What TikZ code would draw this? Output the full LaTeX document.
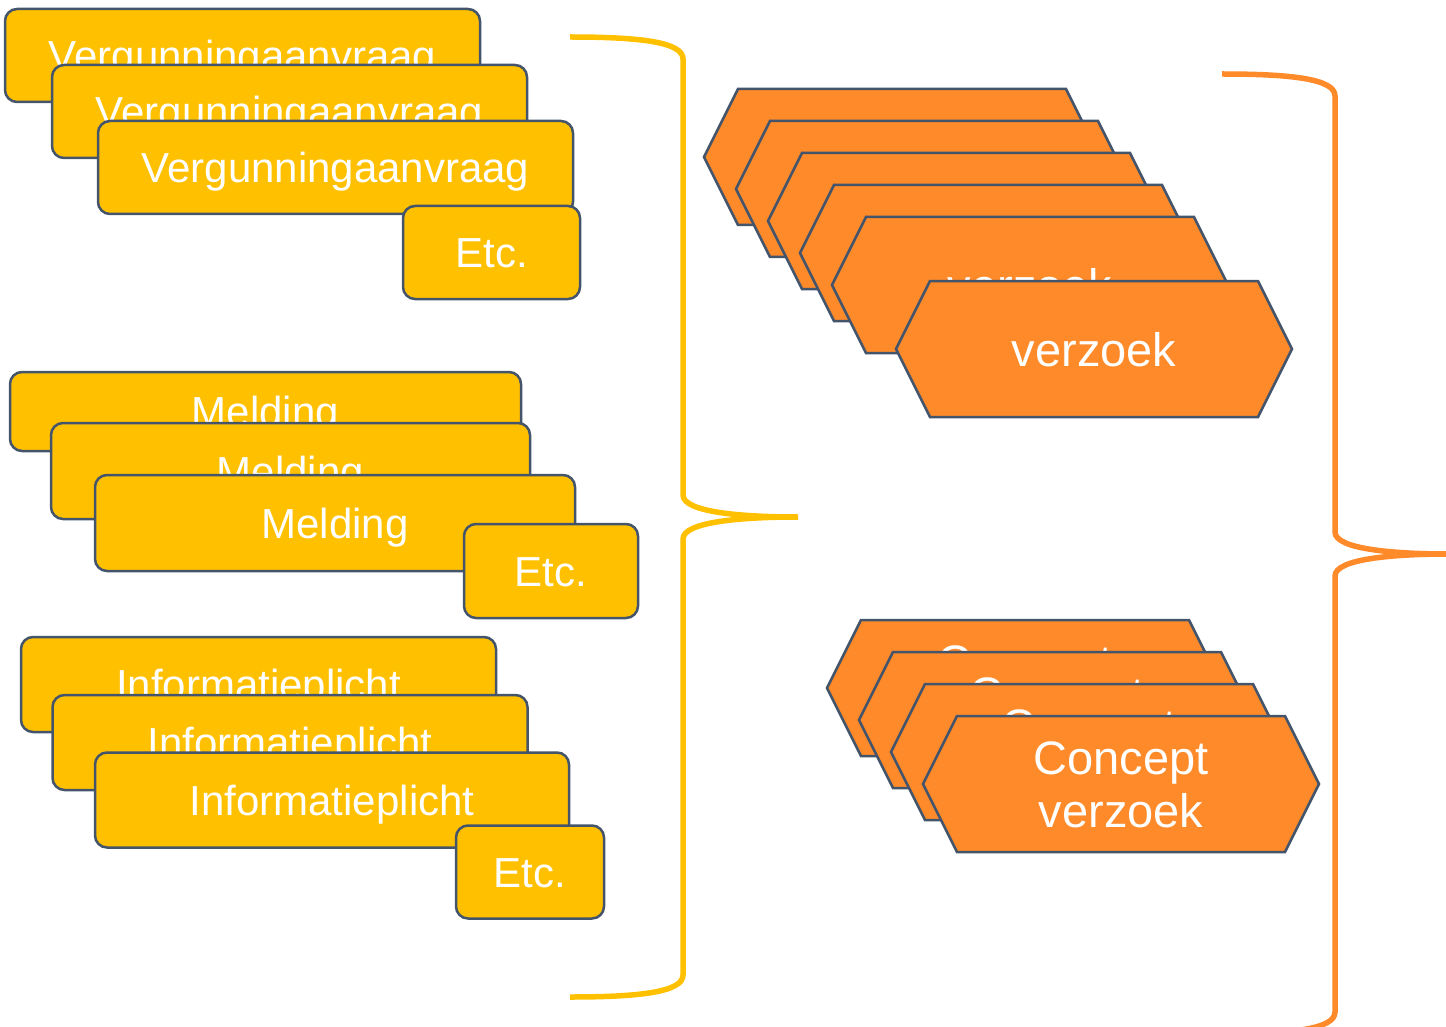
\documentclass[tikz,border=0pt]{standalone}
\usepackage{fontspec}
\setmainfont{Liberation Sans}

\definecolor{geel}{HTML}{FFC000}
\definecolor{oranje}{HTML}{FE8A2A}
\definecolor{rand}{HTML}{44546A}

\tikzset{
  kaart/.style={draw=rand, fill=geel, line width=2.5pt, rounded corners=12pt,
    inner sep=0pt, text=white, font=\fontsize{42}{50}\selectfont,
    text height=30pt, text depth=0pt},
  zeshoek/.style={draw=rand, fill=oranje, line width=2.5pt},
  zeslabel/.style={inner sep=0pt, text=white, align=center,
    font=\fontsize{47}{53}\selectfont, text height=34pt, text depth=0pt},
  tweeregels/.style={text height=87pt},
  accolade/.style={line width=5.5pt},
}

% hexagon: [label options] name, x, y, label
\newcommand{\zeshoekje}[5][]{%
  \filldraw[zeshoek] (#3-198,#4) -- (#3-164,#4-68) -- (#3+164,#4-68)
    -- (#3+198,#4) -- (#3+164,#4+68) -- (#3-164,#4+68) -- cycle;
  \node[zeslabel,#1] (#2) at (#3,#4) {#5};}

% curly brace: colour, x, y of the upper end
\newcommand{\tekenaccolade}[3]{%
  \draw[accolade, #1, shift={(#2,#3)}] (0,0) .. controls (70,0) and (113,5) .. (113,22)
    -- (113,458) .. controls (113,475) and (170,480) .. (228,480)
    .. controls (170,480) and (113,485) .. (113,502)
    -- (113,938) .. controls (113,955) and (70,960) .. (0,960);}

\begin{document}
\begin{tikzpicture}[x=1pt, y=-1pt]
\useasboundingbox (0,0) rectangle (1446,1027);
\clip (0,0) rectangle (1446,1027);

% vergunningaanvragen
\node[kaart, minimum width=475pt, minimum height=93pt] (verg1) at (242.5,55.5) {Vergunningaanvraag};
\node[kaart, minimum width=475pt, minimum height=93pt] (verg2) at (289.5,111.5) {Vergunningaanvraag};
\node[kaart, minimum width=475pt, minimum height=93pt] (verg3) at (335.5,167.5) {Vergunningaanvraag};
\node[kaart, minimum width=177pt, minimum height=93pt] (verg4) at (491.5,252.5) {Etc.};

% meldingen
\node[kaart, minimum width=511pt, minimum height=79pt] (meld1) at (265.5,411.5) {Melding};
\node[kaart, minimum width=479pt, minimum height=96pt] (meld2) at (290.5,471) {Melding};
\node[kaart, minimum width=480pt, minimum height=96pt] (meld3) at (335,523) {Melding};
\node[kaart, minimum width=174pt, minimum height=94pt] (meld4) at (551,571) {Etc.};

% informatieplichten
\node[kaart, minimum width=475pt, minimum height=95pt] (info1) at (258.5,684.5) {Informatieplicht};
\node[kaart, minimum width=475pt, minimum height=95pt] (info2) at (290,742.5) {Informatieplicht};
\node[kaart, minimum width=474pt, minimum height=95pt] (info3) at (332,800) {Informatieplicht};
\node[kaart, minimum width=148pt, minimum height=93pt] (info4) at (530,872) {Etc.};

\tekenaccolade{geel}{570}{37}

% verzoeken
\zeshoekje{verz1}{902}{157}{}
\zeshoekje{verz2}{934}{189}{}
\zeshoekje{verz3}{966}{221}{}
\zeshoekje{verz4}{998}{253}{}
\zeshoekje{verz5}{1030}{285}{verzoek}
\zeshoekje{verz6}{1094}{349}{verzoek}

% conceptverzoeken
\zeshoekje[tweeregels]{conc1}{1025}{688}{Concept\\verzoek}
\zeshoekje[tweeregels]{conc2}{1057}{720}{Concept\\verzoek}
\zeshoekje[tweeregels]{conc3}{1089}{752}{Concept\\verzoek}
\zeshoekje[tweeregels]{conc4}{1121}{784}{Concept\\verzoek}

\tekenaccolade{oranje}{1222}{74}
\end{tikzpicture}
\end{document}
